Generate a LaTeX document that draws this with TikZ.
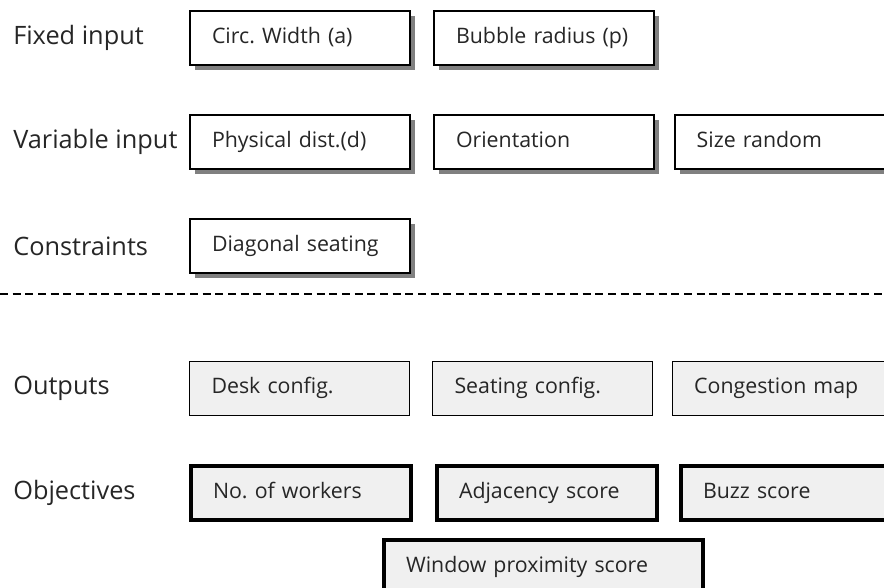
\documentclass[tikz,border=0pt]{standalone}
\usepackage{fontspec}
\setmainfont{Open Sans}
\usetikzlibrary{positioning,shadows}
\frenchspacing

\definecolor{lightfill}{RGB}{240,240,240}
\definecolor{shadowgray}{RGB}{128,128,128}

\begin{document}
\begin{tikzpicture}[
    x=0.75pt, y=-0.75pt,
    box/.style={rectangle, draw, anchor=north west, minimum width=165pt, minimum height=40.5pt,
        text width=132pt, align=left, inner xsep=16.5pt, inner ysep=0pt,
        text height=12pt, text depth=4pt,
        font=\fontsize{16}{19}\selectfont, text=black!85},
    inbox/.style={box, line width=1.5pt, fill=white,
        drop shadow={shadow xshift=4pt, shadow yshift=-4pt, fill=shadowgray, opacity=1}},
    outbox/.style={box, line width=0.75pt, fill=lightfill},
    objbox/.style={box, line width=3pt, fill=lightfill},
    rowlabel/.style={anchor=west, inner sep=0pt, font=\fontsize{19}{23}\selectfont, text=black!85},
    divider/.style={dash pattern=on 6pt off 3.5pt, line width=0.9pt},
    node distance=16.5pt
]
    \useasboundingbox (0,0) rectangle (884,587);
    \clip (0,0) rectangle (884,587);
    \coordinate (lblx) at (13,0);

    % inputs and constraints
    \node[inbox] (circw) at (189,10) {Circ. Width (a)};
    \node[inbox, right=of circw] (bubble) {Bubble radius (p)};
    \node[inbox] (physd) at (189,114) {Physical dist.(d)};
    \node[inbox, right=of physd] (orient) {Orientation};
    \node[inbox, right=14pt of orient] (sizer) {Size random};
    \node[inbox] (diag) at (189,218) {Diagonal seating};

    \node[rowlabel] (lfixed) at (circw.west -| lblx) {Fixed input};
    \node[rowlabel] (lvar) at (physd.west -| lblx) {Variable input};
    \node[rowlabel] (lcons) at (diag.west -| lblx) {Constraints};

    \coordinate (dashl) at (0,294);
    \coordinate (dashr) at (884,294);
    \draw[divider] (dashl) -- (dashr);

    % outputs and objectives
    \node[outbox] (desk) at (189,361) {Desk config.};
    \node[outbox, right=of desk] (seat) {Seating config.};
    \node[outbox, right=14pt of seat] (cong) {Congestion map};
    \node[objbox] (workers) at (189,464) {No. of workers};
    \node[objbox, right=of workers] (adj) {Adjacency score};
    \node[objbox, right=15pt of adj] (buzz) {Buzz score};
    \node[objbox, minimum width=239pt, text width=206pt] (window) at (382,538) {Window proximity score};

    \node[rowlabel] (lout) at (desk.west -| lblx) {Outputs};
    \node[rowlabel] (lobj) at (workers.west -| lblx) {Objectives};
\end{tikzpicture}
\end{document}
